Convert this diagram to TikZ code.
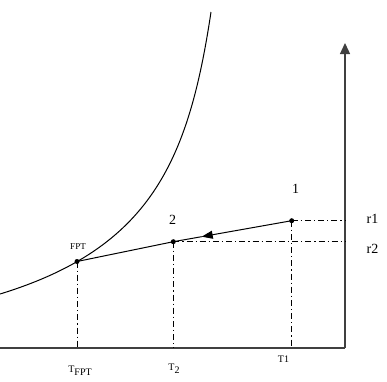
\documentclass[tikz,border=0pt]{standalone}
\usepackage{fontspec}
\setmainfont{Liberation Serif}
\usetikzlibrary{arrows.meta}
\tikzset{
  dotnode/.style={circle,fill=black,inner sep=0pt,minimum size=5pt},
  axisline/.style={draw=black!75,line width=1.3pt},
  dashdot/.style={line width=0.8pt,dash pattern=on 6pt off 3pt on 1.2pt off 3pt},
  biglabel/.style={font=\fontsize{14}{14}\selectfont,inner sep=0pt},
  smalllabel/.style={font=\fontsize{10}{10}\selectfont,inner sep=0pt},
}
\begin{document}
\begin{tikzpicture}[x=1pt,y=-1pt]
\useasboundingbox (0,0) rectangle (387,381);
% axes
\coordinate (origin) at (345,348);
\coordinate (xend) at (0,348);
\coordinate (ytop) at (345,43);
\draw[axisline] (xend) -- (origin);
\draw[axisline,-{Triangle[length=11pt,width=10pt]}] (origin) -- (ytop);
% curve
\coordinate (cs) at (0,294);
\coordinate (ce) at (211,12);
\draw[line width=1pt] (cs) .. controls (150,248) and (188.5,162) .. (ce);
% points
\node[dotnode] (pf) at (77,261.5) {};
\node[dotnode] (p2) at (173.3,241.7) {};
\node[dotnode] (p1) at (291.7,220.7) {};
% foot coordinates
\coordinate (ff) at (77,348);
\coordinate (f2) at (173.3,348);
\coordinate (f1) at (291.7,348);
\coordinate (h1) at (345,220.7);
\coordinate (h2) at (345,241.7);
% main line
\draw[line width=1pt] (pf.center) -- (p2.center);
\path (p1.center) -- (p2.center) coordinate[pos=0.76] (am);
\draw[line width=1pt,-{Triangle[length=11pt,width=8pt]}] (p1.center) -- (am);
\draw[line width=1pt] (am) -- (p2.center);
% dash dot lines
\draw[dashdot] (pf.center) -- (ff);
\draw[dashdot] (p2.center) -- (f2);
\draw[dashdot] (p1.center) -- (f1);
\draw[dashdot] (p1.center) -- (h1);
\draw[dashdot] (p2.center) -- (h2);
% labels
\node[biglabel] (l1) at (295.7,189) {1};
\node[biglabel] (l2) at (172.7,219.5) {2};
\node[biglabel] (lr1) at (372.5,219) {r1};
\node[biglabel] (lr2) at (372.5,248.5) {r2};
\node[font=\fontsize{9}{9}\selectfont,inner sep=0pt] (lfpt) at (78,246.5) {FPT};
\node[smalllabel,anchor=base] (ltf) at (80,372) {T\raisebox{-3pt}{FPT}};
\node[smalllabel,anchor=base] (lt2) at (174,370) {T\raisebox{-3pt}{2}};
\node[smalllabel] (lt1) at (283.5,359) {T1};
\end{tikzpicture}
\end{document}
